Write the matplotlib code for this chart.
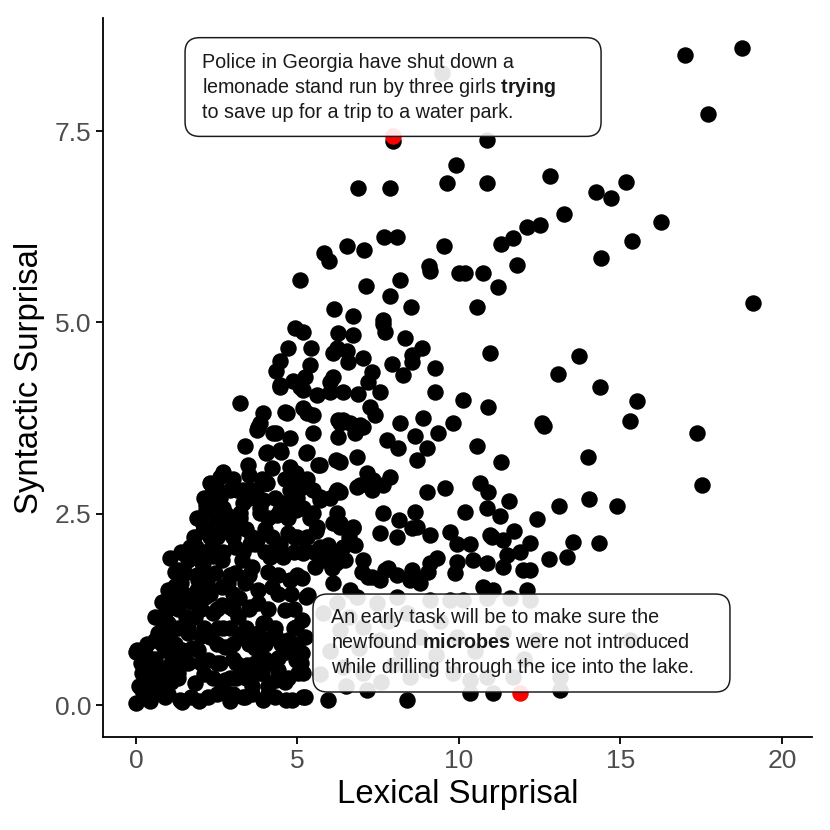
import matplotlib
matplotlib.use("Agg")
import matplotlib.pyplot as plt
from matplotlib.patches import FancyBboxPatch

plt.rcParams['font.family'] = ['Liberation Sans', 'DejaVu Sans']
plt.rcParams['mathtext.fontset'] = 'custom'
plt.rcParams['mathtext.rm'] = 'Liberation Sans'
plt.rcParams['mathtext.bf'] = 'Liberation Sans:bold'

# ---- data: (lexical surprisal, syntactic surprisal) of each word ----
lex = [
    17.00, 18.76, 17.71, 19.10, 17.37, 17.52, 9.47, 7.96, 10.87, 9.91, 9.63, 10.87, 6.87, 7.86,
    12.82, 15.17, 14.24, 14.71, 13.25, 12.51, 12.11, 16.25, 15.36, 14.40, 11.67, 11.30, 11.80,
    7.68, 8.08, 9.54, 6.53, 7.06, 5.82, 5.98, 9.07, 9.10, 10.00, 10.19, 10.74, 11.21, 5.08, 7.12,
    8.17, 7.86, 8.51, 10.56, 6.13, 6.72, 7.65,
    10.96, 13.72, 13.07, 14.37, 15.51, 15.29, 12.57, 12.63, 10.90, 13.99, 11.30, 11.55, 13.10,
    14.02, 14.89, 11.27, 12.41, 11.70, 12.20, 13.53, 14.33, 12.79, 13.34,
    7.65, 7.71, 6.25, 6.72, 8.33, 8.85, 6.22, 6.53, 7.03, 8.54, 7.93, 8.54, 6.56, 9.26, 8.27, 7.31,
    6.10, 7.18, 6.41, 6.87, 7.55, 9.26, 10.12, 7.24, 7.40, 6.41, 6.93, 8.17, 8.89, 9.81, 6.25,
    6.78, 7.77, 8.64, 9.35, 8.11, 9.01, 10.56, 6.32, 6.84, 8.70, 7.15, 7.86, 7.34, 6.84, 6.32,
    9.01, 9.57, 10.65, 10.90, 6.63, 7.03, 7.31, 10.19, 10.87, 7.65, 8.14, 8.64, 7.55, 8.08, 8.70,
    9.10, 9.72, 10.96, 6.78, 6.32, 6.72,
    6.22, 6.93, 7.65, 6.22, 6.72, 8.54, 9.94, 10.34, 11.02, 11.36, 11.89, 11.49, 6.32, 7.03, 7.80,
    8.08, 8.54, 9.10, 9.32, 9.94, 10.43, 10.87, 11.36, 11.98, 12.20, 7.18, 7.55, 8.48, 8.79, 10.74,
    11.05, 12.11, 6.10, 6.63,
    5.23, 5.94, 6.47, 6.07, 5.54, 7.00, 7.31, 7.71, 8.64, 9.04, 9.88, 5.14, 5.33, 5.14, 5.23, 5.14,
    5.02, 5.23, 5.94, 7.15, 8.39, 10.34, 11.05, 13.13,
    6.22, 6.84, 7.46, 8.08, 9.10, 9.72, 10.12, 10.87, 11.58, 12.20, 6.32, 7.03, 6.41, 7.03, 7.96,
    8.48, 9.01, 9.81, 10.34, 10.87, 11.67, 13.13, 8.79, 9.94, 7.55, 11.36, 15.30, 5.80, 6.60, 7.80,
    8.40, 9.40, 6.00, 6.90, 8.20, 9.30, 10.50, 5.70, 6.50, 7.60, 12.40, 12.00,
    3.22, 3.93, 3.84, 4.67, 5.29, 4.46, 5.08, 5.60, 6.00, 3.75, 4.24, 4.77, 5.48, 6.32, 3.37, 4.05,
    4.46, 5.29, 3.47, 4.77, 5.70, 4.98, 2.60, 4.05, 2.51, 3.13, 3.59, 4.77, 5.48, 6.19, 2.29, 3.31,
    3.93, 4.55, 5.17, 5.70, 3.22, 3.84, 4.37, 5.48, 5.60, 6.32, 2.20, 2.69, 1.67, 2.29, 3.00, 3.75,
    4.46, 5.70, 6.41,
    4.92, 5.17, 4.71, 5.42, 6.10, 4.46, 4.33, 5.39, 5.23, 4.86, 4.46, 5.17, 6.00, 4.61, 5.17, 5.48,
    3.78, 4.33, 6.25, 4.02, 4.49, 5.26, 5.63, 6.19, 4.95, 4.02, 3.53, 4.86,
    2.48, 2.91, 3.31, 3.72, 4.02, 5.17, 5.70, 2.17, 2.69, 3.22, 3.84, 4.46, 4.95, 5.39, 5.57, 6.10,
    2.07, 2.60, 3.00, 3.53, 4.33, 4.55, 5.17, 5.79, 6.19, 2.07, 1.46, 1.86, 4.15, 4.77, 5.26, 2.91,
    3.53, 3.31, 3.93, 4.33, 4.95, 4.55, 4.95, 3.41, 3.84, 4.33, 5.17, 1.36, 3.31, 3.93, 4.64, 5.17,
    2.07, 1.70, 2.38, 2.17, 1.05, 1.30, 0.84, 0.68, 0.00, 0.00,
    1.21, 1.73, 2.35, 3.07, 3.68, 4.09, 4.52, 3.59, 3.07, 2.45, 1.92, 1.42, 2.14, 2.66, 3.37, 3.78,
    3.16, 3.99, 4.61, 0.99, 0.68, 0.03, 1.83, 1.61, 2.29, 2.76, 3.22, 3.78, 4.21, 4.71, 4.71, 3.44,
    3.90, 4.40, 2.76, 2.23, 1.83, 1.30, 0.99, 0.50, 0.28, 1.42, 2.66, 3.37, 4.30, 4.83, 0.90, 1.42,
    1.92, 0.37, 0.80, 2.23, 1.52, 1.61, 2.04, 2.66, 3.28, 4.21, 3.78, 2.66, 1.11, 0.90, 0.59, 0.19,
    0.50, 0.90, 0.28,
    0.40, 0.60, 0.75, 1.10, 1.20, 1.05, 1.30, 1.55, 1.70, 1.90, 2.20, 1.00, 1.20, 0.80, 2.40, 2.55,
    2.10, 2.50, 3.00, 1.60, 2.00, 1.75, 0.20, 0.45, 1.95, 2.40, 2.85, 3.20, 3.50, 4.00, 4.70, 5.00,
    3.40, 2.80, 1.90, 2.30, 2.70, 3.50, 4.20, 1.40, 0.60, 0.15, 0.10, 1.70, 2.90, 3.60, 4.10, 4.60,
    3.10, 4.40, 3.70, 4.00, 2.90,
    0.60, 1.00, 2.50, 3.00, 3.60, 4.10,
    0.30, 0.90, 1.30, 2.40, 2.90, 3.40, 4.70,
    0.60, 1.10, 1.50, 2.00, 2.60, 3.10, 3.70, 4.20, 5.10,
    0.35, 0.80, 1.20, 2.50, 3.00, 3.50, 4.00, 4.50, 5.00,
    0.90, 1.60, 2.10, 2.70, 3.40, 4.30, 4.90,
    1.30, 2.00, 2.50, 3.00, 3.50, 4.10, 4.90,
    1.10, 1.50, 2.30, 3.00, 4.40, 4.80,
    1.90, 2.20, 2.90, 4.40, 5.00,
    1.40, 2.10, 2.70, 3.30, 4.00, 4.90, 5.50, 6.00,
    1.80, 2.50, 3.60, 4.20, 4.90, 5.30, 6.60,
    2.00, 2.50, 3.00, 4.10, 4.70,
    2.10, 2.60, 3.50, 4.30, 5.00, 6.00,
    3.00, 3.90, 4.60, 5.30,
]
syn = [
    8.50, 8.58, 7.72, 5.25, 3.56, 2.87, 8.26, 7.37, 7.38, 7.06, 6.82, 6.82, 6.75, 6.75,
    6.91, 6.84, 6.70, 6.62, 6.41, 6.27, 6.24, 6.31, 6.06, 5.84, 6.10, 6.02, 5.75,
    6.11, 6.11, 6.00, 6.00, 5.95, 5.90, 5.80, 5.74, 5.67, 5.64, 5.64, 5.64, 5.46, 5.56, 5.47,
    5.55, 5.34, 5.20, 5.20, 5.17, 5.08, 5.03,
    4.60, 4.56, 4.32, 4.15, 3.97, 3.71, 3.68, 3.65, 3.89, 3.24, 3.17, 2.66, 2.60,
    2.69, 2.60, 2.47, 2.43, 2.27, 2.12, 2.13, 2.12, 1.91, 1.93,
    4.98, 4.87, 4.86, 4.83, 4.79, 4.67, 4.66, 4.63, 4.53, 4.57, 4.46, 4.48, 4.48, 4.40, 4.31, 4.35,
    4.28, 4.22, 4.09, 4.07, 4.09, 4.09, 3.98, 3.89, 3.79, 3.72, 3.66, 3.69, 3.75, 3.68, 3.50,
    3.55, 3.46, 3.52, 3.55, 3.36, 3.36, 3.39, 3.17, 3.24, 3.20, 3.03, 2.98, 2.94, 2.85, 2.78,
    2.78, 2.83, 2.90, 2.78, 3.68, 3.63, 2.81, 2.52, 2.58, 2.51, 2.42, 2.52, 2.25, 2.19, 2.32,
    2.22, 2.26, 2.22, 2.09, 2.32, 2.32,
    2.81, 2.87, 2.87, 2.51, 2.31, 2.31, 2.11, 2.11, 2.19, 2.15, 2.00, 1.96, 1.89, 1.89, 1.79,
    1.70, 1.76, 1.85, 1.92, 1.87, 1.89, 1.85, 1.80, 1.76, 1.76, 1.67, 1.63, 1.63, 1.59, 1.54,
    1.50, 1.50, 1.59, 1.50,
    2.02, 2.09, 1.89, 1.79, 1.80, 1.74, 1.67, 1.76, 1.67, 1.74, 1.72, 1.66, 1.44, 1.11, 0.89, 0.68,
    0.42, 0.10, 0.07, 0.20, 0.07, 0.16, 0.16, 0.20,
    1.33, 1.41, 1.33, 1.41, 1.37, 1.37, 1.37, 1.40, 1.40, 1.37, 0.98, 1.02, 0.50, 0.42, 0.52,
    0.37, 0.46, 0.42, 0.33, 0.37, 0.37, 0.37, 0.89, 0.89, 0.85, 0.94, 0.85, 1.20, 1.15, 1.10,
    1.20, 1.10, 0.70, 0.75, 0.70, 0.65, 0.70, 0.40, 0.25, 0.30, 0.85, 0.60,
    3.94, 3.81, 3.69, 3.81, 3.81, 4.15, 4.15, 4.05, 4.22, 3.59, 3.55, 3.49, 3.56, 3.68, 3.39, 3.30,
    3.33, 3.30, 3.13, 3.11, 3.13, 2.98, 2.98, 2.90, 2.78, 2.81, 2.81, 2.81, 2.81, 2.78, 2.61, 2.64,
    2.68, 2.64, 2.58, 2.72, 2.45, 2.51, 2.48, 2.51, 2.32, 2.38, 2.32, 2.32, 2.06, 2.19, 2.19, 2.15,
    2.11, 2.06, 2.06,
    4.92, 4.87, 4.66, 4.66, 4.60, 4.50, 4.37, 4.44, 4.28, 4.24, 4.18, 4.11, 4.09, 3.83, 3.88, 3.79,
    3.63, 3.56, 3.72, 3.29, 3.30, 3.29, 3.13, 3.20, 3.03, 2.90, 2.81, 2.77,
    2.85, 2.81, 2.81, 2.81, 2.90, 2.85, 2.68, 2.55, 2.58, 2.51, 2.58, 2.55, 2.55, 2.45, 2.28, 2.38,
    2.28, 2.25, 2.32, 2.11, 2.06, 1.93, 1.98, 1.89, 1.85, 1.85, 1.98, 2.06, 1.93, 1.63, 1.41, 1.28,
    1.28, 0.94, 1.07, 0.89, 1.02, 0.68, 0.59, 0.50, 0.42, 0.33, 0.42, 0.07, 0.10, 0.07, 0.07, 0.10,
    2.37, 2.00, 2.81, 2.61, 1.92, 1.76, 1.04, 0.89, 0.69, 0.02,
    1.74, 2.00, 2.06, 2.06, 2.11, 1.74, 1.98, 1.80, 1.72, 1.72, 1.63, 1.37, 1.41, 1.31, 1.59, 1.33,
    1.15, 1.07, 1.24, 1.07, 0.94, 0.72, 1.15, 0.94, 0.89, 0.76, 0.89, 0.94, 0.89, 0.85, 0.72, 0.52,
    0.42, 0.46, 0.33, 0.59, 0.29, 0.42, 0.50, 0.33, 0.10, 0.04, 0.22, 0.10, 0.10, 0.07, 0.72, 0.72,
    0.72, 0.55, 0.24, 0.10, 1.72, 1.89, 1.85, 1.89, 1.89, 1.54, 1.50, 1.54, 1.28, 1.20, 0.85, 0.42,
    0.20, 0.10, 0.68,
    0.40, 0.60, 0.45, 0.30, 0.60, 0.85, 1.00, 1.15, 1.35, 1.50, 1.60, 1.50, 1.55, 1.35, 1.20, 1.00,
    0.40, 0.55, 0.60, 0.55, 0.90, 0.75, 0.20, 0.05, 0.05, 1.95, 1.60, 1.40, 1.70, 2.30, 2.25, 2.20,
    2.30, 2.50, 2.45, 2.90, 3.05, 3.00, 3.10, 1.60, 1.15, 0.55, 0.25, 0.10, 0.05, 0.25, 0.25, 0.30,
    0.35, 0.62, 0.75, 0.60, 1.00,
    0.15, 0.15, 0.15, 0.15, 0.15, 0.15,
    0.35, 0.35, 0.35, 0.35, 0.35, 0.35, 0.35,
    0.55, 0.55, 0.55, 0.55, 0.55, 0.55, 0.55, 0.55, 0.55,
    0.80, 0.80, 0.80, 0.80, 0.80, 0.80, 0.80, 0.80, 0.80,
    1.00, 1.00, 1.00, 1.00, 1.00, 1.00, 1.00,
    1.25, 1.25, 1.25, 1.25, 1.25, 1.25, 1.25,
    1.45, 1.45, 1.45, 1.45, 1.45, 1.45,
    1.70, 1.70, 1.70, 1.70, 1.70,
    2.00, 2.00, 2.00, 2.00, 2.00, 2.00, 2.00, 2.00,
    2.20, 2.20, 2.20, 2.20, 2.20, 2.20, 2.20,
    2.45, 2.45, 2.45, 2.45, 2.45,
    2.70, 2.70, 2.70, 2.70, 2.70, 2.70,
    2.95, 2.95, 2.95, 2.95,
]

# highlighted target words
hl_lex = [7.96, 11.89]
hl_syn = [7.44, 0.16]

# example sentences
top_lines = ["Police in Georgia have shut down a",
             r"lemonade stand run by three girls $\mathbf{trying}$",
             "to save up for a trip to a water park."]
bot_lines = ["An early task will be to make sure the",
             r"newfound $\mathbf{microbes}$ were not introduced",
             "while drilling through the ice into the lake."]

xticks = [0, 5, 10, 15, 20]
yticks = [0.0, 2.5, 5.0, 7.5]

fig = plt.figure(figsize=(7, 7), dpi=830 / 7)
ax = fig.add_axes([103 / 830, 93 / 830, 709 / 830, 719 / 830])

ax.scatter(lex, syn, s=100, color='black', linewidths=0, zorder=2)
ax.scatter(hl_lex, hl_syn, s=100, color='#ff0000', linewidths=0, zorder=3)

ax.set_xlim(-1.02, 20.93)
ax.set_ylim(-0.418, 8.977)

# label boxes (semi-transparent white)
x_per_px = 1 / 32.3
y_per_px = 1 / 76.53
aspect = y_per_px / x_per_px


def label_box(x0, x1, y0, y1, lines, tx, ty_list):
    box = FancyBboxPatch((x0, y0), x1 - x0, y1 - y0,
                         boxstyle="round,pad=0,rounding_size=0.45",
                         mutation_aspect=aspect,
                         facecolor=(1, 1, 1, 0.9), edgecolor='#1a1a1a',
                         linewidth=0.9, zorder=5)
    ax.add_patch(box)
    for s, ty in zip(lines, ty_list):
        ax.text(tx, ty, s, fontsize=12, color='#1a1a1a', ha='left',
                va='baseline', zorder=6)


label_box(1.52, 14.40, 7.43, 8.72, top_lines, 2.06, [8.32, 8.00, 7.67])
label_box(5.48, 18.39, 0.17, 1.45, bot_lines, 6.05, [1.07, 0.745, 0.42])

for side in ['top', 'right']:
    ax.spines[side].set_visible(False)
for side in ['left', 'bottom']:
    ax.spines[side].set_linewidth(1.1)
    ax.spines[side].set_color('black')

ax.set_xticks(xticks)
ax.set_xticklabels([str(t) for t in xticks])
ax.set_yticks(yticks)
ax.set_yticklabels([f"{t:.1f}" for t in yticks])
ax.tick_params(axis='both', length=4, width=1.1, color='black',
               labelsize=16, labelcolor='#4d4d4d', pad=3)

ax.set_xlabel("Lexical Surprisal", fontsize=20, color='black', labelpad=4)
ax.set_ylabel("Syntactic Surprisal", fontsize=20, color='black', labelpad=6)

fig.savefig("out.png", dpi=830 / 7, facecolor='white')
